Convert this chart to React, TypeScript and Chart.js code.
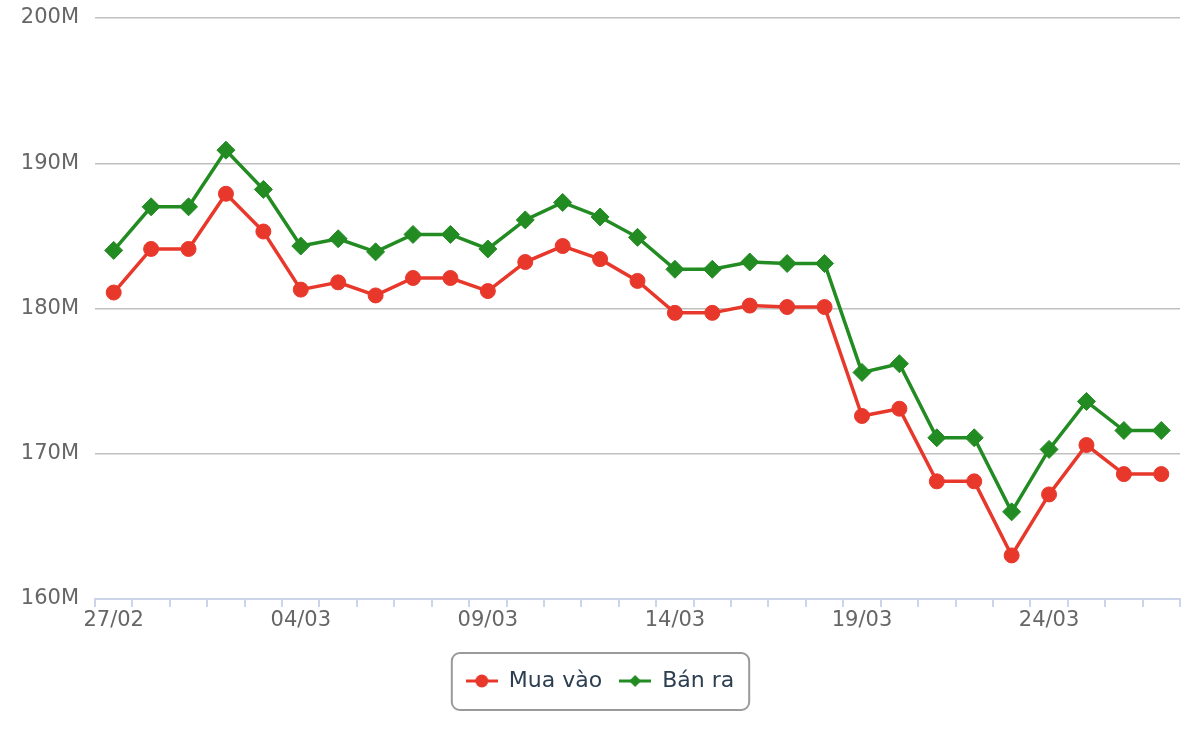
import React, { useEffect, useRef } from "react";
import { Chart, registerables } from "chart.js";

Chart.register(...registerables);

const categories = [
  "27/02", "28/02", "01/03", "02/03", "03/03", "04/03", "05/03", "06/03", "07/03", "08/03",
  "09/03", "10/03", "11/03", "12/03", "13/03", "14/03", "15/03", "16/03", "17/03", "18/03",
  "19/03", "20/03", "21/03", "22/03", "23/03", "24/03", "25/03", "26/03", "27/03",
];

const xTickLabels = ["27/02", "04/03", "09/03", "14/03", "19/03", "24/03"];

// values in millions of VND
const muaVao = [
  181.1, 184.1, 184.1, 187.9, 185.3, 181.3, 181.8, 180.9, 182.1, 182.1,
  181.2, 183.2, 184.3, 183.4, 181.9, 179.7, 179.7, 180.2, 180.1, 180.1,
  172.6, 173.1, 168.1, 168.1, 163.0, 167.2, 170.6, 168.6, 168.6,
];

const banRa = [
  184.0, 187.0, 187.0, 190.9, 188.2, 184.3, 184.8, 183.9, 185.1, 185.1,
  184.1, 186.1, 187.3, 186.3, 184.9, 182.7, 182.7, 183.2, 183.1, 183.1,
  175.6, 176.2, 171.1, 171.1, 166.0, 170.3, 173.6, 171.6, 171.6,
];

const yTicks = [160, 170, 180, 190, 200];

const RED = "#e8382b";
const GREEN = "#228b22";
const FONT = "'DejaVu Sans', sans-serif";

function makeLegendIcon(color: string, shape: "circle" | "diamond") {
  const c = document.createElement("canvas");
  c.width = 32;
  c.height = 16;
  const ctx = c.getContext("2d")!;
  ctx.strokeStyle = color;
  ctx.fillStyle = color;
  ctx.lineWidth = 3;
  ctx.beginPath();
  ctx.moveTo(0, 8);
  ctx.lineTo(32, 8);
  ctx.stroke();
  ctx.beginPath();
  if (shape === "circle") {
    ctx.arc(16, 8, 6.5, 0, Math.PI * 2);
  } else {
    ctx.moveTo(16, 2);
    ctx.lineTo(22, 8);
    ctx.lineTo(16, 14);
    ctx.lineTo(10, 8);
    ctx.closePath();
  }
  ctx.fill();
  return c;
}

const legendBorder = {
  id: "legendBorder",
  afterDraw(chart: any) {
    const lg = chart.legend;
    if (!lg || !lg.legendHitBoxes || !lg.legendHitBoxes.length) return;
    const hb = lg.legendHitBoxes;
    const first = hb[0];
    const last = hb[hb.length - 1];
    const left = first.left - 15;
    const right = last.left + last.width + 16;
    const top = first.top - 18;
    const bottom = first.top + 41;
    const ctx = chart.ctx;
    ctx.save();
    ctx.strokeStyle = "#9a9a9a";
    ctx.lineWidth = 2;
    ctx.beginPath();
    const r = 8;
    const x = left + 1, y = top + 1, w = right - left - 2, h = bottom - top - 2;
    ctx.moveTo(x + r, y);
    ctx.lineTo(x + w - r, y);
    ctx.arcTo(x + w, y, x + w, y + r, r);
    ctx.lineTo(x + w, y + h - r);
    ctx.arcTo(x + w, y + h, x + w - r, y + h, r);
    ctx.lineTo(x + r, y + h);
    ctx.arcTo(x, y + h, x, y + h - r, r);
    ctx.lineTo(x, y + r);
    ctx.arcTo(x, y, x + r, y, r);
    ctx.closePath();
    ctx.stroke();
    ctx.restore();
  },
};

export default function App() {
  const ref = useRef<HTMLCanvasElement | null>(null);

  useEffect(() => {
    if (!ref.current) return;
    Chart.defaults.font.family = FONT;
    const icons = [makeLegendIcon(RED, "circle"), makeLegendIcon(GREEN, "diamond")];
    const chart = new Chart(ref.current, {
      type: "line",
      data: {
        labels: categories,
        datasets: [
          {
            label: "Mua vào",
            data: muaVao,
            borderColor: RED,
            backgroundColor: RED,
            borderWidth: 3.5,
            pointStyle: "circle",
            pointRadius: 7.5,
            pointBorderWidth: 1,
            pointBackgroundColor: RED,
            pointBorderColor: RED,
            tension: 0,
          },
          {
            label: "Bán ra",
            data: banRa,
            borderColor: GREEN,
            backgroundColor: GREEN,
            borderWidth: 3.5,
            pointStyle: "rectRot",
            pointRadius: 9,
            pointBorderWidth: 1,
            pointBackgroundColor: GREEN,
            pointBorderColor: GREEN,
            tension: 0,
          },
        ],
      },
      options: {
        responsive: false,
        animation: false,
        layout: { padding: { top: 18, left: 0, right: 0, bottom: 38 } },
        plugins: {
          tooltip: { enabled: false },
          legend: {
            position: "bottom",
            labels: {
              usePointStyle: true,
              pointStyleWidth: 32,
              padding: 17,
              color: "#2c3e50",
              font: { size: 22, family: FONT },
              generateLabels(chart: any) {
                const items = Chart.defaults.plugins.legend.labels.generateLabels(chart);
                return items.map((it: any, i: number) => ({ ...it, pointStyle: icons[i] }));
              },
            },
          },
        },
        scales: {
          x: {
            type: "category",
            offset: true,
            grid: {
              offset: true,
              drawOnChartArea: false,
              drawTicks: true,
              tickLength: 8,
              color: "#ccd6eb",
              lineWidth: 2,
            },
            border: { display: true, color: "#ccd6eb", width: 2 },
            ticks: {
              autoSkip: false,
              maxRotation: 0,
              minRotation: 0,
              padding: 1,
              color: "#666666",
              font: { size: 21, family: FONT },
              callback: (_v: any, idx: number) =>
                xTickLabels.includes(categories[idx]) ? categories[idx] : "",
            },
            afterFit: (s: any) => {
              s.height = 54;
            },
          },
          y: {
            type: "linear",
            min: 160,
            max: 200,
            afterBuildTicks: (s: any) => {
              s.ticks = yTicks.map((v) => ({ value: v }));
            },
            grid: { drawTicks: false, color: "#c0c0c0", lineWidth: 1.5 },
            border: { display: false },
            ticks: {
              padding: 16,
              color: "#666666",
              font: { size: 21, family: FONT },
              callback: (v: any) => `${v}M`,
            },
            afterFit: (s: any) => {
              s.width = 95;
              s.paddingTop = 0;
              s.paddingBottom = 0;
            },
          },
          yR: {
            type: "linear",
            position: "right",
            display: true,
            grid: { display: false, drawTicks: false },
            border: { display: false },
            ticks: { display: false },
            afterFit: (s: any) => {
              s.width = 20;
              s.paddingTop = 0;
              s.paddingBottom = 0;
            },
          },
        },
      },
      plugins: [legendBorder],
    });
    return () => chart.destroy();
  }, []);

  return (
    <div style={{ position: "fixed", left: 0, top: 0, width: 1200, height: 740, background: "#fff" }}>
      <canvas ref={ref} width={1200} height={740} />
    </div>
  );
}
